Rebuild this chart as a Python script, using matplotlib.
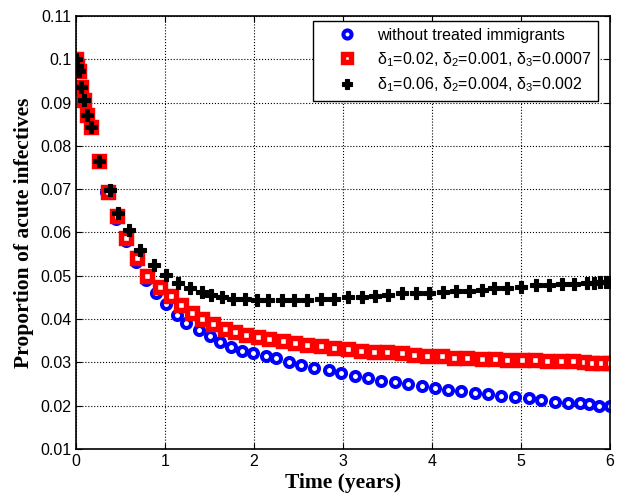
import numpy as np
import matplotlib
matplotlib.use("Agg")
import matplotlib.pyplot as plt

# time points (years) and proportion of acute infectives
t_base = [0, 0.015, 0.034, 0.056, 0.093, 0.126, 0.164, 0.25, 0.34, 0.45, 0.56,
          0.67, 0.78, 0.90, 1.01, 1.13, 1.24, 1.38, 1.51, 1.62, 1.74, 1.86,
          1.99, 2.13, 2.25, 2.39, 2.53, 2.68, 2.84, 2.98, 3.14, 3.28, 3.43,
          3.58, 3.73, 3.89, 4.03, 4.18, 4.33, 4.48, 4.63, 4.78, 4.94, 5.09,
          5.23, 5.38, 5.53, 5.67, 5.77, 5.88, 6.0]
y_base = [0.100, 0.0985, 0.0974, 0.0937, 0.0905, 0.0872, 0.0843, 0.0764,
          0.0694, 0.0632, 0.0580, 0.0532, 0.0491, 0.0459, 0.0434, 0.0409,
          0.0390, 0.0374, 0.0360, 0.0347, 0.0336, 0.0327, 0.0322, 0.0314,
          0.0309, 0.0300, 0.0294, 0.0288, 0.0282, 0.0275, 0.0269, 0.0263,
          0.0258, 0.0254, 0.0249, 0.0246, 0.0241, 0.0237, 0.0234, 0.0228,
          0.0226, 0.0222, 0.0220, 0.0218, 0.0213, 0.0209, 0.0205, 0.0205,
          0.0203, 0.0200, 0.0198]

t_low = [0, 0.015, 0.034, 0.056, 0.093, 0.126, 0.164, 0.26, 0.36, 0.456,
         0.557, 0.68, 0.80, 0.94, 1.07, 1.18, 1.30, 1.42, 1.54, 1.67, 1.79,
         1.91, 2.04, 2.17, 2.33, 2.46, 2.60, 2.75, 2.90, 3.06, 3.20, 3.35,
         3.50, 3.66, 3.80, 3.95, 4.11, 4.25, 4.40, 4.56, 4.71, 4.85, 5.01,
         5.16, 5.30, 5.45, 5.59, 5.71, 5.80, 5.90, 6.0]
y_low = [0.100, 0.0985, 0.0974, 0.0937, 0.0905, 0.0872, 0.0843, 0.0764,
         0.0694, 0.0638, 0.0587, 0.0540, 0.0500, 0.0474, 0.0453, 0.0432,
         0.0414, 0.0399, 0.0388, 0.0378, 0.0370, 0.0362, 0.0358, 0.0353,
         0.0350, 0.0344, 0.0340, 0.0338, 0.0332, 0.0330, 0.0327, 0.0325,
         0.0325, 0.0321, 0.0317, 0.0315, 0.0314, 0.0311, 0.0311, 0.0308,
         0.0307, 0.0306, 0.0306, 0.0305, 0.0303, 0.0303, 0.0302, 0.0300,
         0.0299, 0.0299, 0.0299]

t_high = [0, 0.015, 0.034, 0.056, 0.093, 0.126, 0.164, 0.26, 0.38, 0.47,
          0.59, 0.72, 0.87, 1.01, 1.15, 1.28, 1.41, 1.52, 1.64, 1.76, 1.90,
          2.03, 2.16, 2.31, 2.45, 2.60, 2.75, 2.90, 3.06, 3.21, 3.36, 3.51,
          3.66, 3.82, 3.97, 4.12, 4.27, 4.42, 4.56, 4.70, 4.85, 5.00, 5.17,
          5.32, 5.46, 5.60, 5.75, 5.82, 5.89, 5.96, 6.0]
y_high = [0.100, 0.0985, 0.0974, 0.0937, 0.0905, 0.0872, 0.0843, 0.0764,
          0.0699, 0.0646, 0.0605, 0.0560, 0.0524, 0.0501, 0.0484, 0.0471,
          0.0463, 0.0455, 0.0451, 0.0446, 0.0447, 0.0444, 0.0444, 0.0444,
          0.0444, 0.0445, 0.0446, 0.0446, 0.0450, 0.0450, 0.0453, 0.0455,
          0.0459, 0.0460, 0.0460, 0.0463, 0.0465, 0.0465, 0.0468, 0.0471,
          0.0471, 0.0474, 0.0478, 0.0478, 0.0480, 0.0480, 0.0483, 0.0484,
          0.0485, 0.0485, 0.0486]

labels = ['without treated immigrants',
          'δ$_1$=0.02, δ$_2$=0.001, δ$_3$=0.0007',
          'δ$_1$=0.06, δ$_2$=0.004, δ$_3$=0.002']

plt.rcParams['font.family'] = ['Liberation Sans', 'DejaVu Sans']
plt.rcParams['mathtext.fontset'] = 'custom'
plt.rcParams['mathtext.rm'] = 'Liberation Sans'
plt.rcParams['mathtext.it'] = 'Liberation Sans:italic'

fig = plt.figure(figsize=(6.19, 5.01), dpi=100)
ax = fig.add_axes([0.123, 0.104, 0.862, 0.864])

ax.plot(t_base, y_base, 'o', ls='none', mfc='white', mec='blue',
        ms=6.5, mew=2.9, label=labels[0])
ax.plot(t_low, y_low, 's', ls='none', mfc='white', mec='red',
        ms=7, mew=3.9, label=labels[1])
ax.plot(t_high, y_high, 'P', ls='none', color='black',
        ms=8, mew=0.8, label=labels[2])

ax.set_xlim(0, 6)
ax.set_ylim(0.01, 0.11)
ax.set_xticks(np.arange(0, 7, 1))
ax.set_yticks(np.arange(0.01, 0.111, 0.01))
ax.set_yticklabels(['0.01', '0.02', '0.03', '0.04', '0.05', '0.06', '0.07',
                    '0.08', '0.09', '0.1', '0.11'])
ax.tick_params(direction='in', top=True, right=True, labelsize=11.5,
               length=4, width=0.8)
ax.grid(True, color='black', linestyle=':', linewidth=0.8)
for s in ax.spines.values():
    s.set_linewidth(1.2)

ax.set_xlabel('Time (years)', family='Liberation Serif', fontweight='bold',
              fontsize=15.5, labelpad=3)
ax.set_ylabel('Proportion of acute infectives', family='Liberation Serif',
              fontweight='bold', fontsize=15.5, labelpad=4)

leg = ax.legend(loc='upper right', bbox_to_anchor=(0.978, 0.988),
                borderaxespad=0, fontsize=11.5, fancybox=False,
                framealpha=1, edgecolor='black', handlelength=3.4,
                labelspacing=0.45, handletextpad=0.2, markerscale=0.9)
leg.get_frame().set_linewidth(1.0)

fig.savefig('out.png', dpi=100)
